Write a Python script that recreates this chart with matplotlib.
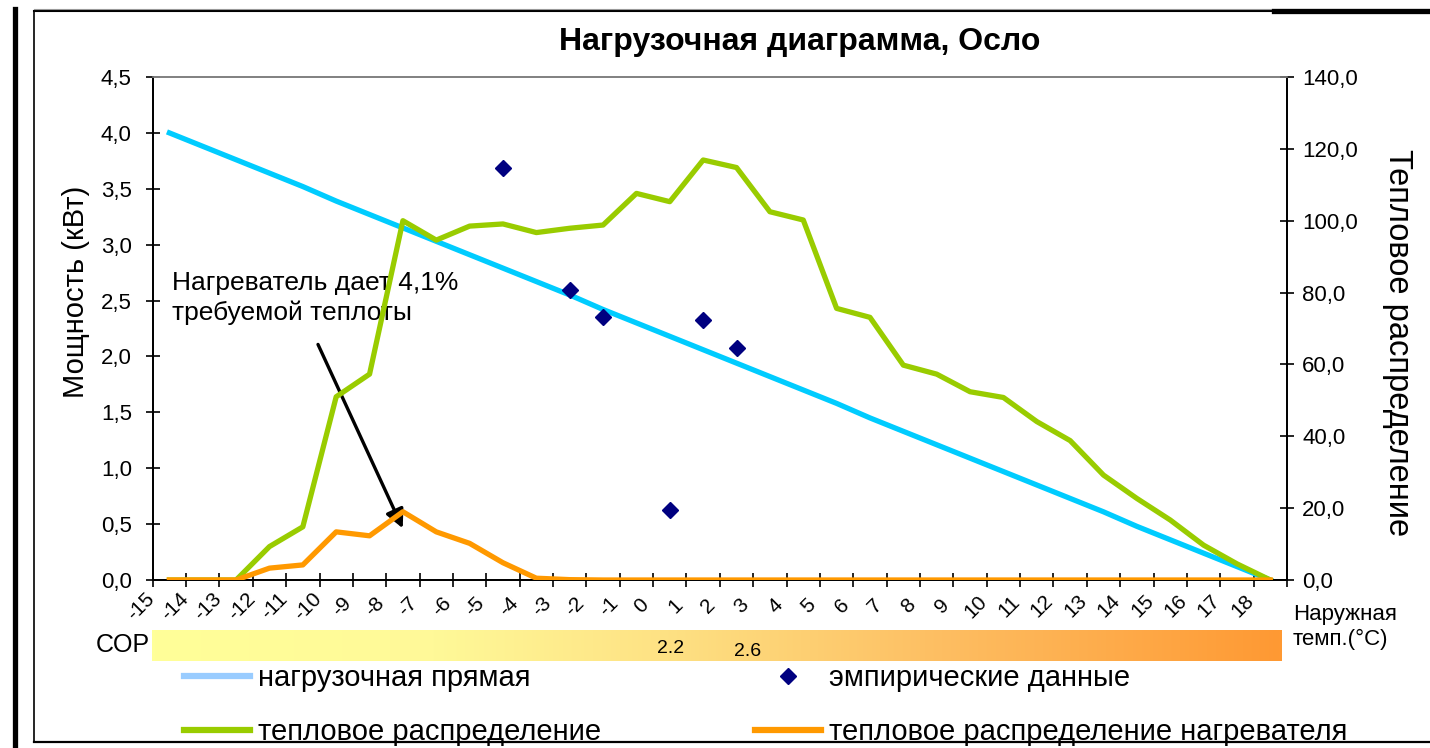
import matplotlib
matplotlib.use("Agg")
import matplotlib.pyplot as plt
import numpy as np
from matplotlib.lines import Line2D
from matplotlib.colors import LinearSegmentedColormap
from matplotlib.transforms import ScaledTranslation

plt.rcParams['font.family'] = ['Liberation Sans', 'DejaVu Sans']

# ---------------- data ----------------
temps = list(range(-15, 19))          # outdoor temperature categories
temp_labels = [str(t) for t in temps]

load_line = [4.00, 3.88, 3.76, 3.64, 3.52, 3.39, 3.27, 3.15, 3.03, 2.91,
             2.79, 2.67, 2.55, 2.42, 2.30, 2.18, 2.06, 1.94, 1.82, 1.70,
             1.58, 1.45, 1.33, 1.21, 1.09, 0.97, 0.85, 0.73, 0.61, 0.48,
             0.36, 0.24, 0.12, 0.00]

heat_dist = [0.0, 0.0, 0.0, 9.3, 14.8, 51.0, 57.3, 100.0, 94.6, 98.5,
             99.1, 96.7, 97.9, 98.8, 107.6, 105.3, 116.9, 114.8, 102.5, 100.2,
             75.6, 73.1, 59.8, 57.3, 52.4, 50.8, 44.1, 38.8, 29.2, 22.7,
             16.7, 9.7, 4.5, 0.0]

heater_dist = [0.0, 0.0, 0.0, 3.3, 4.2, 13.4, 12.3, 19.0, 13.4, 10.2,
               4.8, 0.5, 0.1, 0.0, 0.0, 0.0, 0.0, 0.0, 0.0, 0.0,
               0.0, 0.0, 0.0, 0.0, 0.0, 0.0, 0.0, 0.0, 0.0, 0.0,
               0.0, 0.0, 0.0, 0.0]

emp_temps = [-5, -3, -2, 0, 1, 2]
emp_power = [3.69, 2.59, 2.35, 0.63, 2.33, 2.08]

left_ticks = [0.0, 0.5, 1.0, 1.5, 2.0, 2.5, 3.0, 3.5, 4.0, 4.5]
left_tick_labels = ['0,0', '0,5', '1,0', '1,5', '2,0', '2,5', '3,0', '3,5', '4,0', '4,5']
right_ticks = [0, 20, 40, 60, 80, 100, 120, 140]
right_tick_labels = ['0,0', '20,0', '40,0', '60,0', '80,0', '100,0', '120,0', '140,0']

cop_labels = ['2.2', '2.6']

# ---------------- figure ----------------
W, H = 1430, 748
fig = plt.figure(figsize=(W / 100, H / 100), dpi=100)

def fx(px):
    return px / W

def fy(py):
    return 1 - py / H

ax = fig.add_axes([fx(152.7), fy(580), fx(1287) - fx(152.7), fy(77) - fy(580)])
ax2 = ax.twinx()

idx = np.arange(len(temps))
emp_idx = [temps.index(t) for t in emp_temps]

ax.plot(idx, load_line, color='#00CCFF', lw=3.8, zorder=2)
ax.plot(emp_idx, emp_power, linestyle='none', marker='D', markersize=8,
        color='#000080', zorder=3)
ax2.plot(idx, heat_dist, color='#99CC00', lw=3.8, zorder=2)
ax2.plot(idx, heater_dist, color='#FF9900', lw=3.8, zorder=3)

ax.set_yticks(left_ticks)
ax.set_yticklabels(left_tick_labels, fontsize=16)
ax2.set_yticks(right_ticks)
ax2.set_yticklabels(right_tick_labels, fontsize=16)

# category labels (shifted left as in the reference) and tick marks between categories
ax.set_xticks(idx)
ax.set_xticklabels(temp_labels, rotation=45, ha='center', va='center', fontsize=15)
ax.tick_params(axis='x', which='major', length=0, pad=19)
shift = ScaledTranslation(-0.28, 0, fig.dpi_scale_trans)
for lab in ax.get_xticklabels():
    lab.set_transform(lab.get_transform() + shift)
ax.set_xticks(np.arange(-0.5, len(temps), 1.0), minor=True)
ax.tick_params(axis='x', which='minor', direction='inout', length=10, width=1.2)
ax.tick_params(axis='y', direction='inout', length=10, width=1.2, pad=10)
ax2.tick_params(axis='y', direction='inout', length=10, width=1.2, pad=6)

ax.set_xlim(-0.5, len(temps) - 0.5)
ax.set_ylim(0, 4.5)
ax2.set_ylim(0, 140)

for a in (ax, ax2):
    a.spines['top'].set_color('#808080')
    a.spines['top'].set_linewidth(1.2)
    for s in ('left', 'bottom', 'right'):
        a.spines[s].set_color('black')
        a.spines[s].set_linewidth(1.3)

ax.set_ylabel('Мощность (кВт)', fontsize=21)
ax.yaxis.set_label_coords(-0.0553, 0.573)
ax2.set_ylabel('Тепловое распределение', fontsize=23.5, rotation=270, va='center')
ax2.yaxis.set_label_coords(1.097, 0.473)

fig.text(0.5593, fy(42), 'Нагрузочная диаграмма, Осло', fontsize=23,
         fontweight='bold', ha='center', va='center')

# annotation
ax.text(0.08, 2.76, 'Нагреватель дает 4,1%\nтребуемой теплоты', fontsize=19,
        ha='left', va='top', linespacing=1.25, zorder=5)
ax.annotate('', xy=(7.03, 0.44), xytext=(4.42, 2.13),
            arrowprops=dict(arrowstyle='-|>', lw=2.4, color='black', mutation_scale=28),
            zorder=5)

fig.text(fx(1293), fy(627), 'Наружная\nтемп.(°C)', fontsize=16, ha='left',
         va='center', linespacing=1.3)

# COP gradient bar
cop_ax = fig.add_axes([fx(152), fy(661), fx(1282) - fx(152), fy(630) - fy(661)])
cmap = LinearSegmentedColormap.from_list(
    'cop', [(0.0, '#FFFF99'), (0.25, '#FFF998'), (0.45, '#FEE284'),
            (0.7, '#FDBE62'), (1.0, '#FF9933')])
cop_ax.imshow(np.linspace(0, 1, 512)[None, :], aspect='auto', cmap=cmap,
              extent=(0, 1, 0, 1))
cop_ax.set_axis_off()
cop_ax.text(0.459, 0.40, cop_labels[0], fontsize=14, ha='center', va='center')
cop_ax.text(0.527, 0.30, cop_labels[1], fontsize=14, ha='center', va='center')
fig.text(fx(150), fy(645), 'COP', fontsize=18, ha='right', va='center')

# legend
handles = [
    Line2D([], [], color='#99CCFF', lw=4.5),
    Line2D([], [], color='#99CC00', lw=4.5),
    Line2D([], [], linestyle='none', marker='D', markersize=8, color='#000080'),
    Line2D([], [], color='#FF9900', lw=4.5),
]
labels = ['нагрузочная прямая', 'тепловое распределение',
          'эмпирические данные', 'тепловое распределение нагревателя']
fig.legend(handles, labels, ncol=2, loc='upper left',
           bbox_to_anchor=(fx(184), fy(664)), frameon=False, fontsize=21,
           handlelength=2.26, handletextpad=0.28, columnspacing=5.26,
           labelspacing=0.9, borderpad=0, borderaxespad=0)

# outer frame decorations
fig.add_artist(Line2D([fx(15.5), fx(15.5)], [0, fy(9)], color='black', lw=3.8))
fig.add_artist(Line2D([fx(33.5), fx(33.5)], [fy(742), fy(11)], color='black', lw=1.2))
fig.add_artist(Line2D([fx(33.5), 1], [fy(11), fy(11)], color='black', lw=1.5))
fig.add_artist(Line2D([fx(33.5), 1], [fy(8.5), fy(8.5)], color='#999999', lw=0.8))
fig.add_artist(Line2D([fx(33.5), 1], [fy(742), fy(742)], color='black', lw=1.6))
fig.add_artist(Line2D([fx(1274), 1], [fy(10.5), fy(10.5)], color='black', lw=3.8))

fig.savefig('out.png', dpi=100)
